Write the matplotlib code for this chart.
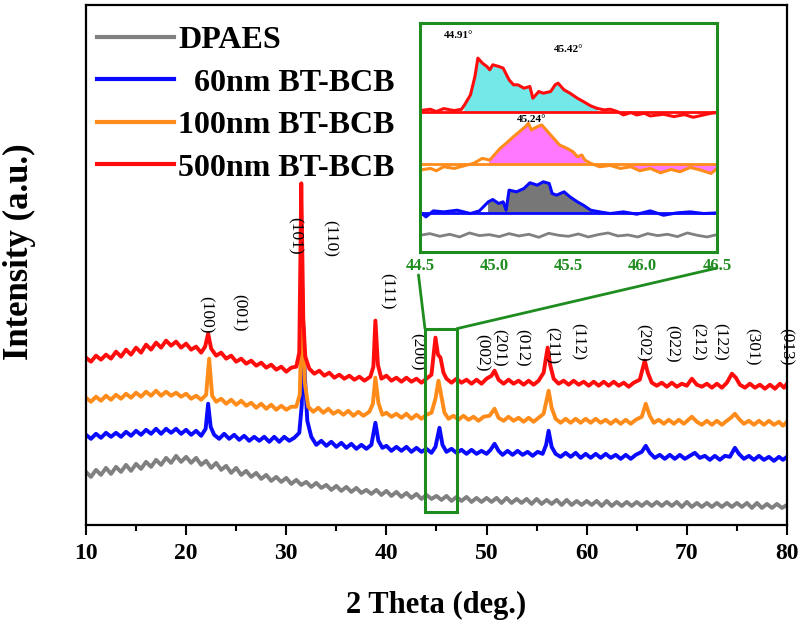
import numpy as np
import matplotlib.pyplot as plt
from matplotlib.patches import Rectangle, ConnectionPatch
from matplotlib.ticker import MultipleLocator

plt.rcParams['font.family'] = ['Liberation Serif', 'DejaVu Serif']

# -------- data (2theta in deg, intensity in a.u.) ----------
RED = [(10, 167), (10.5, 163), (11, 169), (11.5, 165), (12, 170), (12.5, 166), (13, 173), (13.5, 168),
       (14, 175), (14.5, 170), (15, 177), (15.5, 172), (16, 180), (16.5, 175), (17, 182), (17.5, 177),
       (18, 184), (18.5, 179), (19, 183), (19.5, 177), (20, 181), (20.5, 175), (21, 178), (21.5, 172),
       (21.9, 178), (22.2, 191), (22.5, 176), (23, 169), (23.5, 172), (24, 166), (24.5, 169), (25, 163),
       (25.5, 166), (26, 161), (26.5, 164), (27, 159), (27.5, 162), (28, 157), (28.5, 160), (29, 155),
       (29.5, 158), (30, 153), (30.5, 157), (31, 158), (31.3, 172), (31.5, 341), (31.7, 205), (31.9, 168),
       (32.3, 156), (32.8, 151), (33.3, 154), (33.8, 149), (34.3, 152), (34.8, 147), (35.3, 150), (35.8, 146),
       (36.3, 149), (36.8, 145), (37.3, 148), (37.8, 144), (38.4, 148), (38.7, 158), (38.9, 204), (39.15, 160),
       (39.5, 146), (40, 149), (40.5, 144), (41, 147), (41.5, 143), (42, 147), (42.5, 143), (43, 146),
       (43.5, 142), (44, 146), (44.5, 150), (44.9, 187), (45.15, 170), (45.4, 167), (45.7, 152), (46, 146),
       (46.5, 142), (47, 146), (47.5, 142), (48, 145), (48.5, 141), (49, 145), (49.5, 141), (50, 146),
       (50.5, 149), (50.8, 154), (51.2, 145), (51.7, 141), (52.2, 145), (52.7, 141), (53.2, 144), (53.7, 140),
       (54.2, 144), (54.7, 140), (55.2, 144), (55.7, 152), (55.95, 168), (56.1, 177), (56.35, 160), (56.7, 146),
       (57.2, 141), (57.7, 144), (58.2, 140), (58.7, 144), (59.2, 140), (59.7, 143), (60.2, 139), (60.7, 143),
       (61.2, 139), (61.7, 143), (62.2, 139), (62.7, 143), (63.2, 139), (63.7, 142), (64.2, 138), (64.7, 142),
       (65.3, 145), (65.8, 164), (66.1, 152), (66.5, 142), (67, 139), (67.5, 142), (68, 138), (68.5, 142),
       (69, 138), (69.5, 141), (70, 139), (70.5, 146), (71, 140), (71.5, 138), (72, 141), (72.5, 137),
       (73, 141), (73.5, 137), (74, 142), (74.5, 151), (74.9, 147), (75.3, 140), (75.8, 137), (76.3, 141),
       (76.8, 137), (77.3, 140), (77.8, 136), (78.3, 140), (78.8, 136), (79.3, 141), (79.7, 137), (80, 141)]

ORANGE = [(10, 127), (10.5, 123), (11, 128), (11.5, 124), (12, 129), (12.5, 125), (13, 130), (13.5, 126),
          (14, 131), (14.5, 127), (15, 132), (15.5, 128), (16, 133), (16.5, 129), (17, 134), (17.5, 129),
          (18, 133), (18.5, 129), (19, 132), (19.5, 128), (20, 131), (20.5, 126), (21, 129), (21.5, 125),
          (22, 130), (22.3, 166), (22.6, 129), (23, 123), (23.5, 126), (24, 121), (24.5, 125), (25, 120),
          (25.5, 124), (26, 119), (26.5, 122), (27, 117), (27.5, 121), (28, 116), (28.5, 120), (29, 115),
          (29.5, 119), (30, 115), (30.5, 118), (31, 118), (31.35, 130), (31.6, 237), (31.85, 142), (32.2, 118),
          (32.7, 113), (33.2, 117), (33.7, 112), (34.2, 116), (34.7, 111), (35.2, 114), (35.7, 110), (36.2, 114),
          (36.7, 109), (37.2, 113), (37.7, 109), (38.3, 113), (38.65, 121), (38.9, 147), (39.2, 122), (39.6, 110),
          (40, 112), (40.5, 108), (41, 111), (41.5, 107), (42, 111), (42.5, 106), (43, 110), (43.5, 106),
          (44, 110), (44.5, 112), (44.9, 126), (45.2, 144), (45.5, 128), (45.8, 112), (46.2, 106), (46.7, 109),
          (47.2, 105), (47.7, 109), (48.2, 105), (48.7, 108), (49.2, 104), (49.7, 108), (50.3, 109), (50.8, 116),
          (51.2, 107), (51.7, 104), (52.2, 108), (52.7, 104), (53.2, 107), (53.7, 103), (54.2, 107), (54.7, 103),
          (55.2, 107), (55.7, 111), (56.2, 134), (56.5, 117), (56.9, 106), (57.4, 102), (57.9, 106), (58.4, 102),
          (58.9, 106), (59.4, 102), (59.9, 106), (60.4, 102), (60.9, 106), (61.4, 102), (61.9, 105), (62.4, 101),
          (62.9, 105), (63.4, 101), (63.9, 105), (64.4, 101), (64.9, 105), (65.5, 108), (65.9, 121), (66.3, 109),
          (66.7, 102), (67.2, 105), (67.7, 101), (68.2, 105), (68.7, 101), (69.2, 105), (69.7, 101), (70.5, 108),
          (71, 103), (71.5, 100), (72, 104), (72.5, 100), (73, 104), (73.5, 100), (74, 104), (74.4, 107),
          (74.8, 111), (75.2, 106), (75.7, 101), (76.2, 104), (76.7, 100), (77.2, 104), (77.7, 100), (78.2, 104),
          (78.7, 100), (79.2, 103), (79.6, 99), (80, 103)]

BLUE = [(10, 90), (10.5, 86), (11, 91), (11.5, 87), (12, 92), (12.5, 88), (13, 92), (13.5, 88),
        (14, 93), (14.5, 89), (15, 94), (15.5, 90), (16, 95), (16.5, 91), (17, 96), (17.5, 91),
        (18, 96), (18.5, 92), (19, 96), (19.5, 91), (20, 95), (20.5, 90), (21, 94), (21.5, 89),
        (21.95, 96), (22.2, 121), (22.45, 98), (22.8, 90), (23.3, 86), (23.8, 91), (24.3, 86), (24.8, 90),
        (25.3, 85), (25.8, 89), (26.3, 84), (26.8, 88), (27.3, 84), (27.8, 88), (28.3, 83), (28.8, 88),
        (29.3, 83), (29.8, 88), (30.3, 84), (30.8, 87), (31.3, 92), (31.55, 120), (31.7, 197), (31.85, 150),
        (32.1, 104), (32.5, 88), (33, 80), (33.5, 84), (34, 79), (34.5, 83), (35, 78), (35.5, 82),
        (36, 77), (36.5, 81), (37, 76), (37.5, 80), (38, 76), (38.5, 80), (38.9, 102), (39.2, 84),
        (39.6, 77), (40, 79), (40.5, 74), (41, 78), (41.5, 74), (42, 78), (42.5, 73), (43, 77),
        (43.5, 73), (44, 76), (44.5, 72), (44.9, 78), (45.3, 97), (45.6, 80), (46, 73), (46.5, 76),
        (47, 72), (47.5, 75), (48, 71), (48.5, 75), (49, 71), (49.5, 74), (50, 71), (50.4, 75),
        (50.8, 81), (51.2, 74), (51.6, 70), (52.1, 74), (52.6, 70), (53.1, 74), (53.6, 70), (54.1, 73),
        (54.6, 69), (55.1, 73), (55.6, 71), (55.95, 80), (56.2, 94), (56.5, 78), (56.9, 71), (57.4, 68),
        (57.9, 72), (58.4, 68), (58.9, 72), (59.4, 67), (59.9, 71), (60.4, 67), (60.9, 71), (61.4, 67),
        (61.9, 71), (62.4, 67), (62.9, 70), (63.4, 66), (63.9, 70), (64.4, 66), (64.9, 70), (65.5, 73),
        (65.9, 79), (66.3, 72), (66.8, 67), (67.3, 70), (67.8, 66), (68.3, 70), (68.8, 66), (69.3, 70),
        (69.8, 66), (70.3, 69), (70.8, 72), (71.3, 67), (71.8, 69), (72.3, 65), (72.8, 69), (73.3, 65),
        (73.8, 69), (74.3, 68), (74.8, 77), (75.2, 71), (75.7, 66), (76.2, 69), (76.7, 65), (77.2, 69),
        (77.7, 65), (78.2, 68), (78.7, 64), (79.2, 68), (79.6, 65), (80, 68)]

GREY_X = np.arange(10, 80.01, 0.5)
GREY_Y = [53, 48, 55, 50, 57, 51, 58, 53, 60, 54, 61, 56, 63, 58, 65, 60, 67, 62, 69, 63,
          68, 62, 67, 60, 64, 57, 62, 55, 59, 52, 57, 50, 54, 48, 52, 46, 50, 44, 48, 43,
          47, 41, 45, 40, 43, 38, 42, 37, 40, 35, 39, 34, 38, 33, 37, 32, 35, 31, 35, 30,
          34, 29, 33, 28, 32, 27, 31, 26, 30, 26, 29, 25, 29, 24, 28, 24, 28, 23, 27, 23,
          27, 23, 27, 22, 27, 22, 26, 22, 26, 21, 26, 21, 25, 21, 25, 20, 25, 20, 24, 20,
          24, 20, 24, 19, 24, 19, 23, 19, 23, 19, 23, 19, 23, 19, 23, 19, 23, 19, 23, 18,
          23, 18, 22, 18, 22, 18, 22, 18, 22, 18, 22, 18, 22, 17, 22, 17, 21, 17, 21, 17, 20]

# hkl labels: text, 2theta, height
HKL = [("(100)", 21.98, 210), ("(001)", 25.28, 212), ("(101)", 30.87, 289), ("(110)", 34.37, 286),
       ("(111)", 40.06, 233), ("(200)", 43.05, 173), ("(002)", 49.55, 172), ("(201)", 51.2, 177),
       ("(012)", 53.54, 177), ("(211)", 56.53, 179), ("(112)", 59.13, 183), ("(202)", 65.62, 182),
       ("(022)", 68.55, 181), ("(212)", 71.14, 183), ("(122)", 73.31, 183), ("(301)", 76.5, 178),
       ("(013)", 79.9, 178)]

# zoomed region 44.5-46.5 deg
IN_RED = [(44.5, 428), (44.57, 432), (44.61, 425), (44.66, 434), (44.73, 428), (44.78, 432), (44.8, 445),
          (44.84, 475), (44.87, 530), (44.89, 585), (44.92, 570), (44.95, 560), (44.97, 550), (44.99, 565),
          (45.03, 560), (45.06, 555), (45.1, 520), (45.13, 505), (45.16, 505), (45.2, 495), (45.24, 500),
          (45.26, 465), (45.3, 485), (45.33, 480), (45.38, 485), (45.41, 505), (45.43, 510), (45.47, 490),
          (45.51, 480), (45.56, 465), (45.6, 455), (45.65, 442), (45.69, 435), (45.74, 430), (45.78, 432),
          (45.83, 425), (45.87, 415), (45.92, 422), (45.96, 415), (46.01, 420), (46.05, 412), (46.14, 417),
          (46.21, 410), (46.28, 416), (46.34, 408), (46.41, 415), (46.46, 420), (46.5, 422)]
IN_ORANGE = [(44.5, 250), (44.57, 255), (44.61, 248), (44.66, 260), (44.73, 255), (44.79, 262), (44.86, 270),
             (44.92, 285), (44.97, 280), (45.01, 300), (45.04, 315), (45.08, 330), (45.13, 350), (45.17, 365),
             (45.21, 380), (45.23, 390), (45.25, 370), (45.29, 380), (45.32, 385), (45.35, 370), (45.4, 345),
             (45.44, 325), (45.49, 315), (45.53, 305), (45.56, 290), (45.59, 295), (45.61, 280), (45.65, 270),
             (45.71, 260), (45.78, 264), (45.85, 255), (45.92, 260), (45.98, 248), (46.05, 255), (46.12, 242),
             (46.19, 252), (46.25, 245), (46.32, 258), (46.39, 250), (46.46, 240), (46.5, 255)]
IN_BLUE = [(44.5, 125), (44.54, 110), (44.59, 128), (44.66, 125), (44.75, 130), (44.84, 120), (44.9, 128),
           (44.96, 155), (44.99, 162), (45.03, 150), (45.06, 155), (45.08, 130), (45.1, 190), (45.15, 185),
           (45.2, 195), (45.24, 212), (45.29, 205), (45.33, 215), (45.37, 210), (45.39, 180), (45.42, 175),
           (45.47, 185), (45.51, 170), (45.56, 155), (45.6, 145), (45.65, 130), (45.71, 125), (45.78, 120),
           (45.87, 125), (45.96, 118), (46.05, 128), (46.14, 115), (46.23, 122), (46.32, 125), (46.41, 120),
           (46.5, 122)]
IN_GREY_X = np.linspace(44.5, 46.5, 31)
IN_GREY_Y = [55, 60, 52, 58, 50, 62, 54, 57, 51, 60, 53, 58, 49, 61, 55, 52,
             59, 50, 57, 62, 53, 56, 50, 60, 54, 58, 51, 62, 55, 50, 57]
IN_BASE = {"red": 425, "orange": 267, "blue": 123}
IN_MARKS = [("44.91°", 44.76, 652), ("45.42°", 45.50, 610), ("45.24°", 45.25, 400)]

GREEN = "#1e8c1e"
C_GREY, C_BLUE, C_ORANGE, C_RED = "#808080", "#0a0aff", "#ff8c1a", "#ff0d0d"

fig = plt.figure(figsize=(8.05, 6.3), dpi=100)
ax = fig.add_axes([0.1068, 0.1667, 0.8708, 0.8254])

rx, ry = np.array(RED).T
ox, oy = np.array(ORANGE).T
bx, by = np.array(BLUE).T
ax.plot(GREY_X, GREY_Y, color=C_GREY, lw=2.8, label="DPAES")
ax.plot(bx, by, color=C_BLUE, lw=2.8, label="  60nm BT-BCB")
ax.plot(ox, oy, color=C_ORANGE, lw=2.8, label="100nm BT-BCB")
ax.plot(rx, ry, color=C_RED, lw=2.8, label="500nm BT-BCB")

for txt, x, y in HKL:
    ax.text(x, y, txt, rotation=270, ha="center", va="center", fontsize=12.5)

ax.set_xlim(10, 80)
ax.set_ylim(0, 519)
ax.xaxis.set_major_locator(MultipleLocator(10))
ax.xaxis.set_minor_locator(MultipleLocator(5))
ax.set_yticks([])
ax.tick_params(axis="x", which="major", direction="out", length=7, width=1.5, pad=6, labelsize=17)
ax.tick_params(axis="x", which="minor", direction="out", length=4, width=1.5)
for lab in ax.get_xticklabels():
    lab.set_fontweight("bold")
for s in ax.spines.values():
    s.set_linewidth(1.6)
ax.set_xlabel("2 Theta (deg.)", fontsize=22, fontweight="bold", labelpad=19)
ax.set_ylabel("Intensity (a.u.)", fontsize=25, fontweight="bold")
ax.yaxis.set_label_coords(-0.071, 0.525)

leg = ax.legend(loc="upper left", bbox_to_anchor=(0.1205, 0.959), bbox_transform=fig.transFigure,
                frameon=False, borderpad=0, borderaxespad=0, handlelength=2.4, handletextpad=0.15,
                labelspacing=0.41, prop={"family": "Liberation Serif", "weight": "bold", "size": 23})
for h in leg.get_lines():
    h.set_linewidth(3)

# box around the zoomed peak
ax.add_patch(Rectangle((43.85, 13), 3.2, 183, fill=False, edgecolor=GREEN, lw=2.2, zorder=5))

# inset
ins = fig.add_axes([0.5217, 0.6, 0.369, 0.3635])
gx, gy = IN_GREY_X, IN_GREY_Y
irx, iry = np.array(IN_RED).T
iox, ioy = np.array(IN_ORANGE).T
ibx, iby = np.array(IN_BLUE).T
ins.fill_between(irx, iry, IN_BASE["red"], where=(irx >= 44.8) & (irx <= 45.7), color="#72e8e8")
ins.fill_between(iox, ioy, IN_BASE["orange"], where=((iox >= 44.97) & (iox <= 45.62)) | (iox >= 45.9),
                 color="#ff78ff")
ins.fill_between(ibx, iby, IN_BASE["blue"], where=(ibx >= 44.96) & (ibx <= 45.66), color="#777777")
ins.axhline(IN_BASE["red"], color=C_RED, lw=2)
ins.axhline(IN_BASE["orange"], color=C_ORANGE, lw=2)
ins.axhline(IN_BASE["blue"], color=C_BLUE, lw=2)
ins.plot(gx, gy, color=C_GREY, lw=2)
ins.plot(ibx, iby, color=C_BLUE, lw=2.2)
ins.plot(iox, ioy, color=C_ORANGE, lw=2.2)
ins.plot(irx, iry, color=C_RED, lw=2.2)
for txt, x, y in IN_MARKS:
    ins.text(x, y, txt, fontsize=8, fontweight="bold", ha="center", va="center")
ins.set_xlim(44.5, 46.5)
ins.set_ylim(5, 690)
ins.set_xticks([44.5, 45.0, 45.5, 46.0, 46.5])
ins.set_xticklabels(["44.5", "45.0", "45.5", "46.0", "46.5"])
ins.set_yticks([])
ins.tick_params(axis="x", length=0, pad=4, labelsize=12, labelcolor=GREEN)
for lab in ins.get_xticklabels():
    lab.set_fontweight("bold")
for s in ins.spines.values():
    s.set_linewidth(2.2)
    s.set_edgecolor(GREEN)

# lines joining box and inset
for a, b in [((-0.005, -0.1), (43.85, 196)), ((1.0, -0.07), (47.05, 196))]:
    con = ConnectionPatch(xyA=a, coordsA=ins.transAxes, xyB=b, coordsB=ax.transData,
                          color=GREEN, lw=2)
    fig.add_artist(con)

fig.savefig("out.png", dpi=100)
